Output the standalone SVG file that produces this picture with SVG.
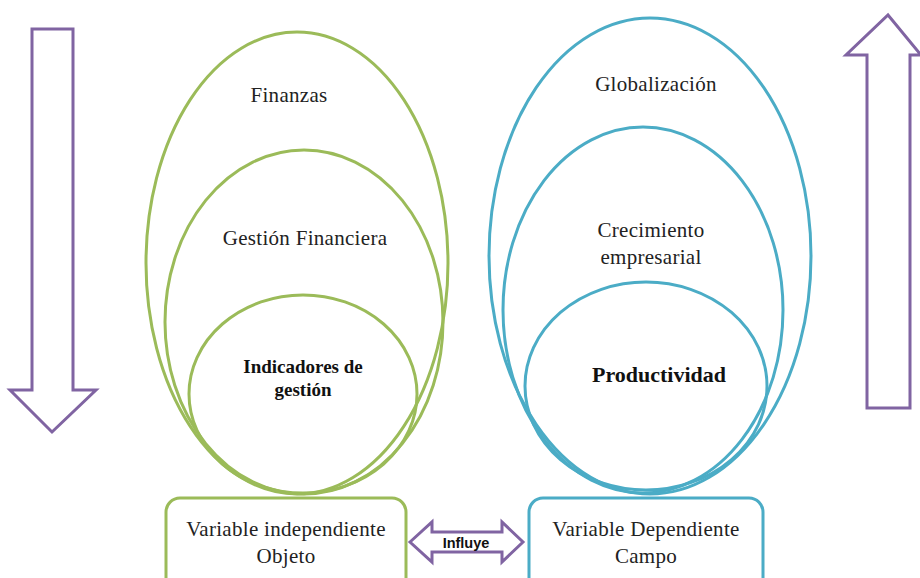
<svg xmlns="http://www.w3.org/2000/svg" width="920" height="578" viewBox="0 0 920 578">
<style>
.g{fill:none;stroke:#9BBB59;stroke-width:3}
.b{fill:none;stroke:#4BACC6;stroke-width:3}
.p{fill:#fff;stroke:#8064A2;stroke-width:3;stroke-linejoin:miter}
.t{font-family:"Liberation Serif",serif;font-size:21px;letter-spacing:0.3px;fill:#222;text-anchor:middle}
.tb{font-family:"Liberation Serif",serif;font-weight:bold;fill:#111;text-anchor:middle}
.s{font-family:"Liberation Sans",Arial,sans-serif;font-weight:bold;font-size:14.5px;fill:#111;text-anchor:middle}
</style>
<rect width="920" height="578" fill="#fff"/>
<g id="arrow-down"><path class="p" d="M32 29 H73 V390 H96 L52 432 L10 390 H32 Z"/></g>
<g id="arrow-up"><path class="p" d="M867 408 H910 V55 H921 L888 15 L846 55 H867 Z"/></g>
<g id="finanzas"><ellipse class="g" cx="297" cy="263" rx="151" ry="231"/><text class="t" x="289" y="102">Finanzas</text></g>
<g id="gestion-financiera"><ellipse class="g" cx="304" cy="322" rx="139" ry="172"/><text class="t" x="305" y="245">Gestión Financiera</text></g>
<g id="indicadores"><ellipse class="g" cx="303" cy="394" rx="114" ry="99"/><text class="tb" font-size="19" x="303" y="373">Indicadores de</text><text class="tb" font-size="19" x="303" y="396">gestión</text></g>
<g id="globalizacion"><ellipse class="b" cx="650" cy="256" rx="161" ry="238"/><text class="t" x="656" y="91">Globalización</text></g>
<g id="crecimiento"><ellipse class="b" cx="643" cy="310" rx="140" ry="183"/><text class="t" x="651" y="237">Crecimiento</text><text class="t" x="651" y="264">empresarial</text></g>
<g id="productividad"><ellipse class="b" cx="646" cy="386" rx="121" ry="104"/><text class="tb" font-size="22" x="659" y="382">Productividad</text></g>
<g id="var-independiente"><rect x="166" y="498" width="240" height="95" rx="14" fill="#fff" stroke="#9BBB59" stroke-width="3"/><text class="t" x="286" y="536">Variable independiente</text><text class="t" x="286" y="563">Objeto</text></g>
<g id="var-dependiente"><rect x="529" y="498" width="234" height="95" rx="14" fill="#fff" stroke="#4BACC6" stroke-width="3"/><text class="t" x="646" y="536">Variable Dependiente</text><text class="t" x="646" y="563">Campo</text></g>
<g id="connectors"><path class="p" d="M410 542 L432 522 V532 H502 V522 L523 542 L502 562 V552 H432 V562 Z"/><text class="s" x="466" y="548">Influye</text></g>
</svg>
